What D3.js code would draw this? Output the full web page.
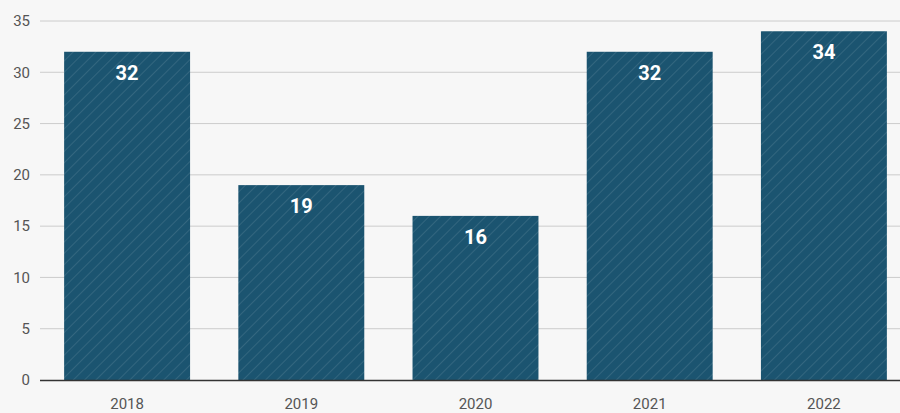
<!DOCTYPE html>
<html>
<head>
<meta charset="utf-8">
<script src="https://cdn.jsdelivr.net/npm/d3@7"></script>
<style>
  body { margin: 0; background: #f7f7f7; }
  svg { display: block; }
</style>
</head>
<body>
<svg id="main"></svg>
<script>
const years = ['2018', '2019', '2020', '2021', '2022'];
const counts = [32, 19, 16, 32, 34];
const yTicks = [0, 5, 10, 15, 20, 25, 30, 35];

let width = 900,
  height = 413;

const svg = d3.select('#main')
  .attr('width', width)
  .attr('height', height);

svg.append('rect')
  .attr('width', width)
  .attr('height', height)
  .attr('fill', '#f7f7f7');

// hatch
const pat = svg.append('defs').append('pattern')
  .attr('id', 'hatch')
  .attr('patternUnits', 'userSpaceOnUse')
  .attr('width', 8)
  .attr('height', 8)
  .attr('patternTransform', 'rotate(45)');
pat.append('rect')
  .attr('width', 8)
  .attr('height', 8)
  .attr('fill', '#1b5470');
pat.append('line')
  .attr('x1', 0).attr('y1', 0)
  .attr('x2', 0).attr('y2', 8)
  .attr('stroke', 'rgba(255,255,255,0.14)')
  .attr('stroke-width', 1.5);

const x = d3.scaleBand()
  .domain(years)
  .range([40, 911])
  .paddingInner(0.277)
  .paddingOuter(0.1385);

const y = d3.scaleLinear()
  .domain([0, 35])
  .range([380, 21]);

// grid
svg.append('g')
  .selectAll('line')
  .data(yTicks.filter(d => d > 0))
  .enter()
  .append('line')
  .attr('x1', 40)
  .attr('x2', width)
  .attr('y1', d => y(d))
  .attr('y2', d => y(d))
  .attr('stroke', '#cccccc')
  .attr('stroke-width', 1);

const yAxis = svg.append('g')
  .attr('transform', 'translate(40,0)')
  .call(d3.axisLeft(y).tickValues(yTicks).tickSize(0).tickPadding(10));
yAxis.select('.domain').remove();
yAxis.selectAll('text')
  .attr('fill', '#555')
  .attr('font-family', 'Roboto')
  .attr('font-size', '15px');

svg.selectAll('.bar')
  .data(years)
  .enter()
  .append('rect')
  .attr('class', 'bar')
  .attr('x', d => x(d))
  .attr('y', (d, i) => y(counts[i]))
  .attr('width', x.bandwidth())
  .attr('height', (d, i) => y(0) - y(counts[i]))
  .attr('fill', 'url(#hatch)');

svg.selectAll('.val')
  .data(years)
  .enter()
  .append('text')
  .attr('class', 'val')
  .text((d, i) => counts[i])
  .attr('x', d => x(d) + x.bandwidth() / 2)
  .attr('y', (d, i) => y(counts[i]) + 28)
  .attr('text-anchor', 'middle')
  .attr('fill', 'white')
  .attr('font-family', 'Roboto')
  .attr('font-weight', 'bold')
  .attr('font-size', '20px');

const xAxis = svg.append('g')
  .attr('transform', `translate(0, ${y(0)})`)
  .call(d3.axisBottom(x).tickSize(0).tickPadding(18));
xAxis.select('.domain')
  .attr('d', `M40,0.5H${width}`)
  .attr('stroke', '#333')
  .attr('stroke-width', 1.5);
xAxis.selectAll('text')
  .attr('fill', '#555')
  .attr('font-family', 'Roboto')
  .attr('font-size', '15px');
</script>
</body>
</html>
